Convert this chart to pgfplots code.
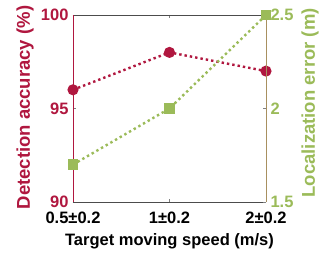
\documentclass[border=0pt]{standalone}
\usepackage{fontspec}
\setmainfont{Liberation Sans}
\usepackage{pgfplots}
\pgfplotsset{compat=1.18}
\definecolor{cred}{HTML}{B0173F}
\definecolor{cgreen}{HTML}{9BBB59}
\definecolor{ctan}{HTML}{A89060}
\begin{document}
\begin{tikzpicture}[font=\bfseries\fontsize{16.5}{18}\selectfont]
\begin{axis}[
  scale only axis, width=193pt, height=187pt,
  xmin=0, xmax=2, ymin=90, ymax=100,
  xtick={0,1,2}, xticklabels={0.5±0.2,1±0.2,2±0.2},
  ytick={90,95,100},
  axis y line*=left, axis x line*=box,
  y axis line style={cred, line width=0.8pt},
  x axis line style={black!70, line width=0.6pt},
  yticklabel style={cred, anchor=east, xshift=-1pt},
  ylabel={Detection accuracy (\%)},
  ylabel style={cred, font=\bfseries\fontsize{18.5}{20}\selectfont, at={([xshift=-48pt]axis description cs:0,0.505)}, anchor=center, rotate=0},
  xlabel={Target moving speed (m/s)},
  xlabel style={at={([yshift=-39pt]axis description cs:0.5,0)}, anchor=center},
  xticklabel style={anchor=center, yshift=-16pt},
  tick align=inside, major tick length=3pt,
  /pgf/number format/assume math mode=true,
  clip=false,
]
\addplot[cred, line width=2.4pt, dash pattern=on 2.4pt off 3pt, mark=*, mark size=4.3pt, mark options={solid, fill=cred}]
  coordinates {(0,96) (1,98) (2,97)};
\coordinate (bl) at (rel axis cs:0,0);
\coordinate (tr) at (rel axis cs:1,1);
\end{axis}
\begin{axis}[
  scale only axis, width=193pt, height=187pt,
  xmin=0, xmax=2, ymin=1.5, ymax=2.5,
  axis x line=none, axis y line*=right,
  ytick={1.5,2,2.5},
  y axis line style={ctan, line width=0.8pt},
  yticklabel style={cgreen, anchor=west, xshift=1pt},
  ylabel={Localization error (m)},
  ylabel style={cgreen, font=\bfseries\fontsize{18.5}{20}\selectfont, at={([xshift=44pt]axis description cs:1,0.53)}, anchor=center, rotate=0},
  tick align=inside, major tick length=3pt,
  /pgf/number format/assume math mode=true,
  clip=false,
]
\addplot[cgreen, line width=2.4pt, dash pattern=on 2.4pt off 3pt, mark=square*, mark size=4.2pt, mark options={solid, fill=cgreen}]
  coordinates {(0,1.7) (1,2.0) (2,2.5)};
\end{axis}
\pgfresetboundingbox
\path ([shift={(-73pt,-51pt)}]bl) rectangle ([shift={(55pt,15pt)}]tr);
\end{tikzpicture}
\end{document}
